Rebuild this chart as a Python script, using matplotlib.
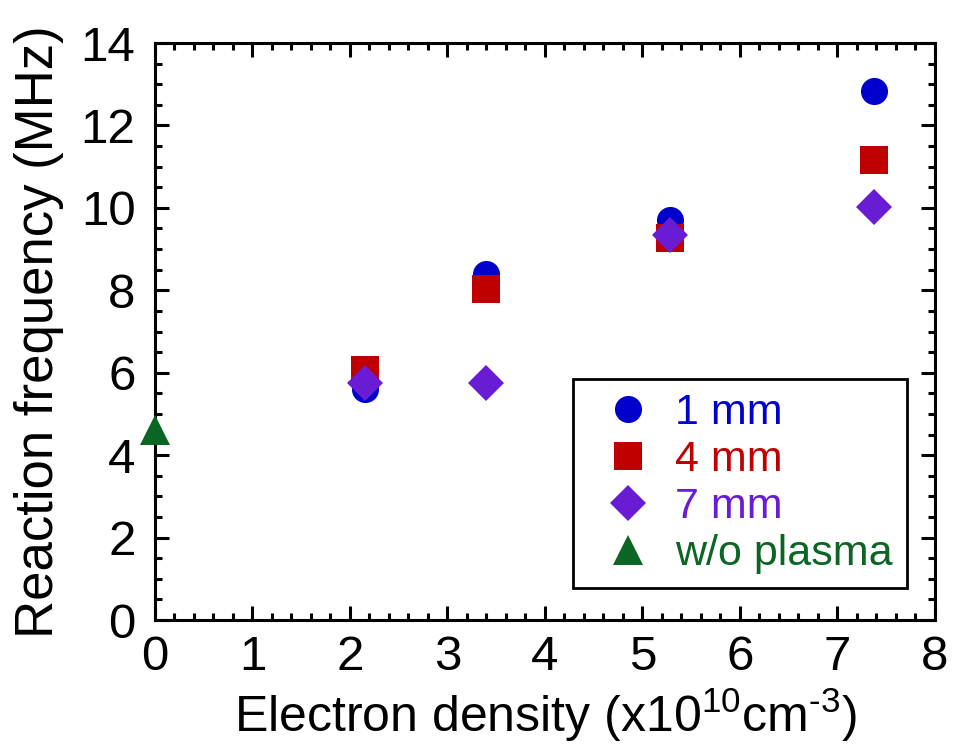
import matplotlib
matplotlib.use('Agg')
import matplotlib.pyplot as plt
from matplotlib.ticker import MultipleLocator

plt.rcParams['font.family'] = ['Liberation Sans', 'DejaVu Sans']
plt.rcParams['mathtext.fontset'] = 'custom'
plt.rcParams['mathtext.rm'] = 'Liberation Sans'

# electron density (x10^10 cm^-3) and reaction frequency (MHz)
density = [2.15, 3.4, 5.28, 7.38]
freq_1mm = [5.6, 8.4, 9.7, 12.83]
freq_4mm = [6.07, 8.03, 9.27, 11.16]
freq_7mm = [5.75, 5.75, 9.34, 10.02]
density_noplasma = [0.0]
freq_noplasma = [4.6]

fig = plt.figure(figsize=(9.55, 7.51), dpi=100)
ax = fig.add_axes([0.1623, 0.1744, 0.8167, 0.7683])

ax.plot(density, freq_1mm, 'o', color='#0000cc', ms=19.5, mew=0, label='1 mm', clip_on=False)
ax.plot(density, freq_4mm, 's', color='#c00000', ms=19.5, mew=0, label='4 mm', clip_on=False)
ax.plot(density, freq_7mm, 'D', color='#6a1bd4', ms=18, mew=0, label='7 mm', clip_on=False)
ax.plot(density_noplasma, freq_noplasma, '^', color='#0b6623', ms=21, mew=0,
        label='w/o plasma', clip_on=False, zorder=5)

ax.set_xlim(0, 8)
ax.set_ylim(0, 14)
ax.xaxis.set_major_locator(MultipleLocator(1))
ax.xaxis.set_minor_locator(MultipleLocator(0.2))
ax.yaxis.set_major_locator(MultipleLocator(2))
ax.yaxis.set_minor_locator(MultipleLocator(0.5))

for s in ax.spines.values():
    s.set_linewidth(2.2)
ax.tick_params(which='both', direction='in', top=True, right=True, width=2.2,
               labelsize=35.5)
ax.tick_params(which='major', length=10)
ax.tick_params(which='minor', length=5)
ax.tick_params(axis='x', which='major', pad=11)
ax.tick_params(axis='y', which='major', pad=14)

ax.set_xlabel(r'Electron density (x10$^{10}$cm$^{\text{-}3}$)', fontsize=36, labelpad=4)
ax.set_ylabel('Reaction frequency (MHz)', fontsize=38, labelpad=12)

leg = ax.legend(loc='lower right', bbox_to_anchor=(0.964, 0.0555), borderaxespad=0,
                fontsize=31, frameon=True, fancybox=False, edgecolor='black',
                handlelength=1.9, handletextpad=0.14, labelspacing=0.16,
                borderpad=0.33, labelcolor='markerfacecolor')
leg.get_frame().set_linewidth(2)
leg.get_frame().set_alpha(None)

fig.savefig('out.png', dpi=100)
